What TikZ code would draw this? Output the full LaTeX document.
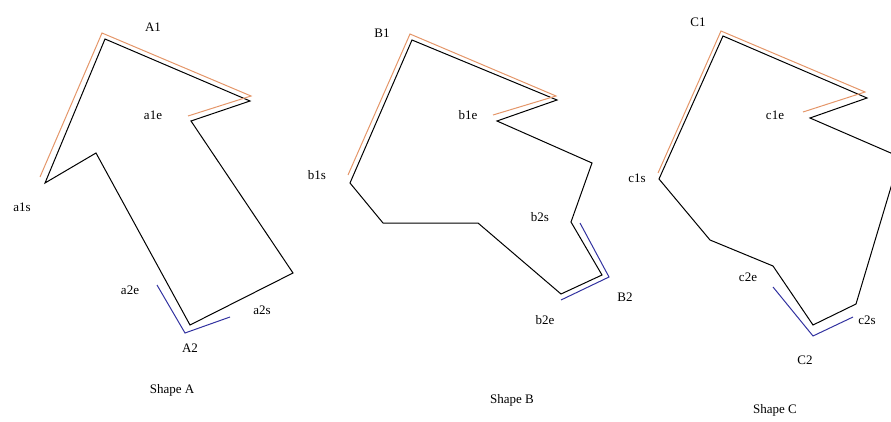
\documentclass[tikz,border=0pt]{standalone}
\usepackage{fontspec}
\setmainfont{Liberation Serif}
\usepackage{tikz}
\usetikzlibrary{positioning}

\definecolor{peach}{RGB}{228,150,105}
\definecolor{navy}{RGB}{50,50,160}

\begin{document}
\begin{tikzpicture}[
  x=1pt, y=-1pt,
  every node/.style={font=\fontsize{13}{15}\selectfont, inner sep=1pt},
  outline/.style={draw=black, line width=1pt, line join=miter},
  trace/.style={draw=#1, line width=1pt},
  tag/.style={anchor=center},
]
\useasboundingbox (0,0) rectangle (891,422);
\clip (0,0) rectangle (891,422);

% --- Shape A
\coordinate (As) at (45,183);
\coordinate (Atop) at (105,39);
\coordinate (Atip) at (250,101);
\coordinate (Ae) at (191,121);
\coordinate (Abr) at (293,273);
\coordinate (Abot) at (190,325);
\coordinate (Ain) at (96,153);
\draw[outline] (As) -- (Atop) -- (Atip) -- (Ae) -- (Abr) -- (Abot) -- (Ain) -- cycle;
\draw[trace=peach] (40,177) -- (102,33) -- (251,96) -- (188,116);
\draw[trace=navy] (157,285) -- (185,333) -- (230,317);

\node[tag] (lA1) at (153,27) {A1};
\node[tag] (la1e) at (153,115) {a1e};
\node[tag] (la1s) at (22,207) {a1s};
\node[tag] (la2e) at (130,290) {a2e};
\node[tag] (la2s) at (262,310) {a2s};
\node[tag] (lA2) at (190,348) {A2};
\node[tag] (capA) at (172,390) {Shape A};

% --- Shape B
\coordinate (Bs) at (350,183);
\coordinate (Btop) at (412,40);
\coordinate (Btip) at (557,100);
\coordinate (Be) at (497,121);
\coordinate (Brv) at (592,163);
\coordinate (B2s) at (571,222);
\coordinate (Bc) at (602,275);
\coordinate (B2e) at (561,294);
\coordinate (Bm) at (478,223);
\coordinate (Bl) at (383,223);
\draw[outline] (Bs) -- (Btop) -- (Btip) -- (Be) -- (Brv) -- (B2s) -- (Bc) -- (B2e)
  -- (Bm) -- (Bl) -- cycle;
\draw[trace=peach] (348,175) -- (410,34) -- (556,96) -- (493,115);
\draw[trace=navy] (580,223) -- (609,277) -- (561,300);

\node[tag] (lB1) at (382,33) {B1};
\node[tag] (lb1e) at (468,115) {b1e};
\node[tag] (lb1s) at (317,175) {b1s};
\node[tag] (lb2s) at (540,217) {b2s};
\node[tag] (lb2e) at (545,320) {b2e};
\node[tag] (lB2) at (625,297) {B2};
\node[tag] (capB) at (512,400) {Shape B};

% --- Shape C (right corner runs off the edge)
\coordinate (Cs) at (659,179);
\coordinate (Ctop) at (723,36);
\coordinate (Ctip) at (867,98);
\coordinate (Ce) at (810,118);
\coordinate (Crv) at (900,157);
\coordinate (C2s) at (856,304);
\coordinate (Cbot) at (813,325);
\coordinate (C2e) at (773,266);
\coordinate (Cm) at (710,240);
\draw[outline] (Cs) -- (Ctop) -- (Ctip) -- (Ce) -- (Crv) -- (C2s) -- (Cbot) -- (C2e)
  -- (Cm) -- cycle;
\draw[trace=peach] (658,173) -- (721,31) -- (865,92) -- (803,112);
\draw[trace=navy] (773,287) -- (813,336) -- (853,317);

\node[tag] (lC1) at (698,22) {C1};
\node[tag] (lc1e) at (775,115) {c1e};
\node[tag] (lc1s) at (637,178) {c1s};
\node[tag] (lc2e) at (748,277) {c2e};
\node[tag] (lc2s) at (867,320) {c2s};
\node[tag] (lC2) at (805,360) {C2};
\node[tag] (capC) at (775,410) {Shape C};

\end{tikzpicture}
\end{document}
